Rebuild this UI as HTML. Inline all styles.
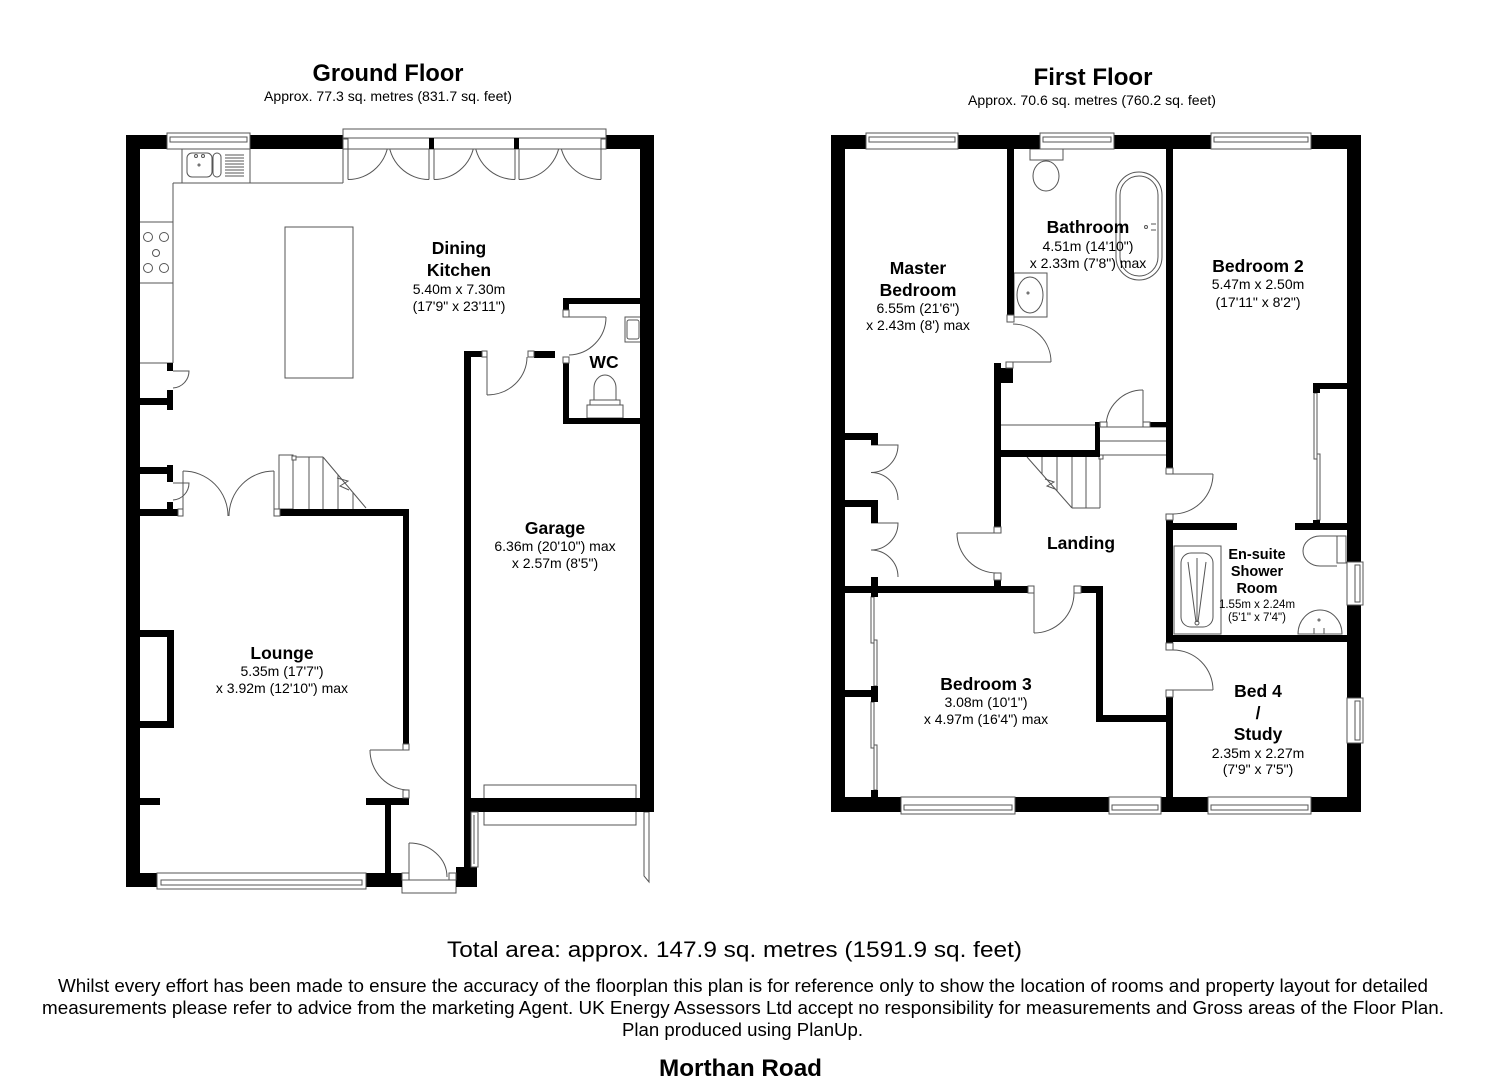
<!DOCTYPE html>
<html><head><meta charset="utf-8">
<style>
html,body{margin:0;padding:0;background:#fff;}
svg{display:block;}
text{font-family:"Liberation Sans",Arial,sans-serif;fill:#000;}
.t{font-weight:bold;font-size:17.5px;text-anchor:middle;}
.d{font-size:14px;text-anchor:middle;}
.ts{font-weight:bold;font-size:14.5px;text-anchor:middle;}
.ds{font-size:11.5px;text-anchor:middle;}
</style></head><body>
<svg width="1485" height="1080" viewBox="0 0 1485 1080" xmlns="http://www.w3.org/2000/svg">

<!-- ========== TITLES ========== -->
<text x="388" y="81" font-size="24" font-weight="bold" text-anchor="middle" textLength="151" lengthAdjust="spacingAndGlyphs">Ground Floor</text>
<text x="388" y="101" font-size="14" text-anchor="middle" textLength="248" lengthAdjust="spacingAndGlyphs">Approx. 77.3 sq. metres (831.7 sq. feet)</text>
<text x="1093" y="85" font-size="24" font-weight="bold" text-anchor="middle" textLength="119" lengthAdjust="spacingAndGlyphs">First Floor</text>
<text x="1092" y="105" font-size="14" text-anchor="middle" textLength="248" lengthAdjust="spacingAndGlyphs">Approx. 70.6 sq. metres (760.2 sq. feet)</text>

<!-- ========== GROUND FLOOR thin lines ========== -->
<g fill="none" stroke="#555" stroke-width="1">
  <!-- worktops -->
  <line x1="173" y1="183" x2="343" y2="183"/>
  <line x1="343" y1="149" x2="343" y2="183"/>
  <line x1="173" y1="183" x2="173" y2="363"/>
  <line x1="140" y1="363" x2="173" y2="363"/>
  <rect x="182" y="149" width="68" height="34"/>
  <rect x="187" y="153" width="25" height="24" rx="5"/>
  <rect x="213" y="153" width="8" height="24" rx="4"/>
  <circle cx="196" cy="156" r="1.5"/><circle cx="203" cy="156" r="1.5"/>
  <circle cx="199" cy="165" r="1"/>
  <line x1="225" y1="155" x2="244" y2="155"/><line x1="225" y1="158" x2="244" y2="158"/>
  <line x1="225" y1="161" x2="244" y2="161"/><line x1="225" y1="164" x2="244" y2="164"/>
  <line x1="225" y1="167" x2="244" y2="167"/><line x1="225" y1="170" x2="244" y2="170"/>
  <line x1="225" y1="173" x2="244" y2="173"/><line x1="225" y1="176" x2="244" y2="176"/>
  <!-- hob -->
  <line x1="140" y1="222" x2="173" y2="222"/>
  <line x1="140" y1="283" x2="173" y2="283"/>
  <circle cx="148" cy="237" r="4.5"/><circle cx="164" cy="237" r="4.5"/>
  <circle cx="156" cy="253" r="3.5"/>
  <circle cx="148" cy="268" r="4.5"/><circle cx="164" cy="268" r="4.5"/>
  <!-- island -->
  <rect x="285" y="227" width="68" height="151"/>
  <!-- french doors -->
  <line x1="348" y1="139" x2="348" y2="179.5"/><path d="M348,179.5 A40.5,40.5 0 0 0 388.5,139"/>
  <line x1="429" y1="139" x2="429" y2="179.5"/><path d="M429,179.5 A40.5,40.5 0 0 1 388.5,139"/>
  <line x1="434" y1="139" x2="434" y2="179.5"/><path d="M434,179.5 A40.5,40.5 0 0 0 474.5,139"/>
  <line x1="515" y1="139" x2="515" y2="179.5"/><path d="M515,179.5 A40.5,40.5 0 0 1 474.5,139"/>
  <line x1="519" y1="139" x2="519" y2="179.5"/><path d="M519,179.5 A41,41 0 0 0 560,139"/>
  <line x1="601" y1="139" x2="601" y2="179.5"/><path d="M601,179.5 A41,41 0 0 1 560,139"/>
  <!-- cupboard doors -->
  <path d="M173,371 L189,371 A17,17 0 0 1 173,388"/>
  <path d="M173,483 L189,483 A17,17 0 0 1 173,500"/>
  <!-- double doors lounge -->
  <line x1="183" y1="516" x2="183" y2="471"/><path d="M183,471 A45,45 0 0 1 228,516"/>
  <line x1="274" y1="516" x2="274" y2="471"/><path d="M274,471 A45,45 0 0 0 229,516"/>
  <!-- stairs -->
  <rect x="279" y="455" width="14" height="54"/>
  <line x1="293" y1="457" x2="323" y2="457"/>
  <line x1="309" y1="457" x2="309" y2="509"/>
  <line x1="323" y1="457" x2="323" y2="509"/>
  <line x1="323" y1="457" x2="366" y2="508"/>
  <line x1="338" y1="475" x2="338" y2="509"/>
  <line x1="353" y1="493" x2="353" y2="509"/>
  <path d="M337,478 L348,481 L340,486 L349,490"/>
  <rect x="292" y="456" width="4" height="4" fill="#fff"/>
  <!-- WC door -->
  <line x1="569" y1="317" x2="606" y2="317"/><path d="M606,317 A38,38 0 0 1 569,355"/>
  <!-- WC fittings -->
  <rect x="625" y="317" width="16" height="25"/>
  <rect x="627" y="320" width="12" height="19" rx="2"/>
  <path d="M594,400 L594,388 A11,13 0 0 1 616,388 L616,400"/>
  <rect x="590" y="400" width="30" height="5"/>
  <rect x="587" y="405" width="36" height="13"/>
  <!-- garage inner door -->
  <line x1="487" y1="357" x2="487" y2="395"/><path d="M487,395 A40,38 0 0 0 527,357"/>
  <!-- lounge door -->
  <line x1="409" y1="750" x2="370" y2="750"/><path d="M370,750 A39,40 0 0 0 409,790"/>
  <!-- front door -->
  <line x1="409" y1="877" x2="409" y2="843"/><path d="M409,843 A38,34 0 0 1 447,877"/>
  <rect x="402" y="880" width="54" height="13" fill="#fff"/>
  <!-- garage door -->
  <rect x="484" y="785" width="152" height="40"/>
  <!-- gate -->
  <path d="M644,812 L649,812 L649,882 L644,876 Z"/>
</g>

<!-- ========== GROUND FLOOR WALLS ========== -->
<g fill="#000">
  <rect x="126" y="135" width="14" height="752"/>
  <rect x="126" y="135" width="217" height="14"/>
  <rect x="603" y="135" width="51" height="14"/>
  <rect x="640" y="135" width="14" height="677"/>
  <rect x="464" y="798" width="190" height="14"/>
  <rect x="464" y="351" width="7" height="536"/>
  <rect x="456" y="867" width="21" height="20"/>
  <rect x="126" y="873" width="31" height="14"/>
  <rect x="366" y="873" width="36" height="14"/>
  <rect x="464" y="351" width="18" height="6"/>
  <rect x="534" y="351" width="21" height="7"/>
  <rect x="563" y="298" width="80" height="6"/>
  <rect x="563" y="298" width="6" height="12"/>
  <rect x="563" y="363" width="6" height="61"/>
  <rect x="563" y="418" width="80" height="6"/>
  <rect x="140" y="509" width="38" height="7"/>
  <rect x="280" y="509" width="129" height="7"/>
  <rect x="403" y="509" width="6" height="235"/>
  <rect x="366" y="798" width="43" height="7"/>
  <rect x="385" y="805" width="6" height="68"/>
  <rect x="140" y="798" width="20" height="7"/>
  <rect x="140" y="630" width="34" height="7"/>
  <rect x="167" y="630" width="7" height="98"/>
  <rect x="140" y="721" width="34" height="7"/>
  <rect x="167" y="363" width="6" height="8"/>
  <rect x="167" y="390" width="6" height="20"/>
  <rect x="140" y="398" width="33" height="7"/>
  <rect x="140" y="467" width="33" height="7"/>
  <rect x="167" y="465" width="6" height="17"/>
  <rect x="167" y="502" width="6" height="8"/>
</g>

<!-- GF windows / stubs -->
<g fill="#fff" stroke="#555" stroke-width="1">
  <rect x="167" y="133" width="83" height="16"/>
  <rect x="170" y="137" width="77" height="5"/>
  <rect x="343" y="129" width="263" height="20"/>
  <line x1="343" y1="138" x2="606" y2="138"/>
  <rect x="157" y="873" width="209" height="16"/>
  <rect x="161" y="880" width="201" height="5"/>
  <rect x="471" y="812" width="7" height="55"/>
  <line x1="474" y1="815" x2="474" y2="864"/>
  <!-- stubs -->
  <rect x="178" y="509" width="5" height="7"/>
  <rect x="274" y="509" width="6" height="7"/>
  <rect x="403" y="744" width="6" height="6"/>
  <rect x="403" y="790" width="6" height="8"/>
  <rect x="402" y="873" width="7" height="7"/>
  <rect x="449" y="873" width="7" height="7"/>
  <rect x="482" y="351" width="5" height="6"/>
  <rect x="528" y="351" width="6" height="6"/>
  <rect x="563" y="310" width="6" height="7"/>
  <rect x="563" y="357" width="6" height="6"/>
  <rect x="343" y="139" width="5" height="10"/>
  <rect x="601" y="139" width="5" height="10"/>
</g>
<g fill="#000">
  <rect x="429" y="138" width="5" height="11"/>
  <rect x="514" y="138" width="5" height="11"/>
</g>

<!-- GF labels -->
<text class="t" x="459" y="254">Dining</text>
<text class="t" x="459" y="276">Kitchen</text>
<text class="d" x="459" y="294">5.40m x 7.30m</text>
<text class="d" x="459" y="311">(17'9" x 23'11")</text>
<text class="t" x="604" y="368">WC</text>
<text class="t" x="555" y="534">Garage</text>
<text class="d" x="555" y="551">6.36m (20'10") max</text>
<text class="d" x="555" y="568">x 2.57m (8'5")</text>
<text class="t" x="282" y="659">Lounge</text>
<text class="d" x="282" y="676">5.35m (17'7")</text>
<text class="d" x="282" y="693">x 3.92m (12'10") max</text>

<!-- ========== FIRST FLOOR thin lines ========== -->
<g fill="none" stroke="#555" stroke-width="1">
  <!-- bathroom fittings -->
  <rect x="1030" y="149" width="33" height="11"/>
  <ellipse cx="1046" cy="176" rx="13" ry="15"/>
  <rect x="1116" y="172" width="46" height="108" rx="23"/>
  <rect x="1120" y="176" width="38" height="100" rx="19"/>
  <circle cx="1146" cy="227" r="1.5"/>
  <path d="M1151,224 h5 M1151,230 h5"/>
  <rect x="1014" y="273" width="33" height="44"/>
  <ellipse cx="1030" cy="295" rx="13" ry="18"/>
  <circle cx="1028" cy="293" r="1"/>
  <!-- doors -->
  <line x1="1013" y1="362" x2="1051" y2="362"/><path d="M1013,324 A38,38 0 0 1 1051,362"/>
  <line x1="997" y1="533" x2="957" y2="533"/><path d="M957,533 A40,40 0 0 0 997,573"/>
  <line x1="1034" y1="593" x2="1034" y2="633"/><path d="M1034,633 A40,40 0 0 0 1074,593"/>
  <line x1="1143" y1="427" x2="1143" y2="390"/><path d="M1143,390 A37,37 0 0 0 1106,427"/>
  <line x1="1173" y1="474" x2="1213" y2="474"/><path d="M1213,474 A40,40 0 0 1 1173,514"/>
  <line x1="1173" y1="690" x2="1213" y2="690"/><path d="M1173,650 A40,40 0 0 1 1213,690"/>
  <!-- banister / landing -->
  <line x1="1001" y1="425" x2="1095" y2="425"/>
  <line x1="1100" y1="427" x2="1166" y2="427"/>
  <line x1="1100" y1="441" x2="1166" y2="441"/>
  <line x1="1100" y1="455" x2="1166" y2="455"/>
  <!-- stairs -->
  <line x1="1027" y1="457" x2="1072" y2="508"/>
  <line x1="1042" y1="457" x2="1042" y2="474"/>
  <line x1="1057" y1="457" x2="1057" y2="491"/>
  <line x1="1072" y1="457" x2="1072" y2="508"/>
  <line x1="1086" y1="457" x2="1086" y2="508"/>
  <line x1="1100" y1="457" x2="1100" y2="508"/>
  <line x1="1072" y1="508" x2="1100" y2="508"/>
  <path d="M1045,479 L1054,482 L1047,486 L1055,489"/>
  <rect x="1099" y="455" width="4" height="4" fill="#fff"/>
  <!-- master wardrobe bifolds -->
  <path d="M871,445 L898,445 A27,27.5 0 0 1 871,472.5 A27,27.5 0 0 1 898,500"/>
  <path d="M871,523 L898,523 A27,27 0 0 1 871,550 A27,27 0 0 1 898,577"/>
  <!-- bed3 sliding -->
  <rect x="871" y="597" width="3" height="46"/>
  <rect x="874" y="640" width="3" height="46"/>
  <rect x="871" y="702" width="3" height="46"/>
  <rect x="874" y="745" width="3" height="45"/>
  <!-- bed2 sliding -->
  <rect x="1314" y="393" width="3" height="66"/>
  <rect x="1317" y="454" width="3" height="66"/>
  <!-- ensuite fittings -->
  <rect x="1174" y="546" width="47" height="88"/>
  <rect x="1181" y="553" width="32" height="74" rx="10"/>
  <path d="M1188,562 L1196,622 M1197,558 L1197,622 M1206,562 L1198,622"/>
  <circle cx="1197" cy="623" r="2"/>
  <path d="M1337,536 L1320,536 A17,15 0 0 0 1320,566 L1337,566"/>
  <rect x="1337" y="536" width="9" height="27"/>
  <path d="M1298,634 A22,24 0 0 1 1342,634 Z"/>
  <circle cx="1319" cy="620" r="1"/>
  <path d="M1314,628 v6 M1324,628 v6"/>
</g>

<!-- ========== FIRST FLOOR WALLS ========== -->
<g fill="#000">
  <rect x="831" y="135" width="14" height="677"/>
  <rect x="831" y="135" width="530" height="14"/>
  <rect x="1347" y="135" width="14" height="677"/>
  <rect x="831" y="797" width="530" height="15"/>
  <rect x="1007" y="149" width="7" height="166"/>
  <rect x="994" y="363" width="7" height="164"/>
  <rect x="994" y="368" width="19" height="15"/>
  <rect x="994" y="580" width="7" height="6"/>
  <rect x="1166" y="149" width="7" height="319"/>
  <rect x="1166" y="520" width="7" height="123"/>
  <rect x="1166" y="697" width="7" height="100"/>
  <rect x="1166" y="523" width="71" height="7"/>
  <rect x="1295" y="523" width="52" height="7"/>
  <rect x="1313" y="383" width="34" height="6"/>
  <rect x="1313" y="383" width="7" height="10"/>
  <rect x="1313" y="520" width="7" height="10"/>
  <rect x="1166" y="635" width="181" height="7"/>
  <rect x="1096" y="586" width="7" height="136"/>
  <rect x="1096" y="715" width="77" height="7"/>
  <rect x="844" y="586" width="184" height="7"/>
  <rect x="1081" y="586" width="22" height="7"/>
  <rect x="1001" y="450" width="99" height="7"/>
  <rect x="1095" y="422" width="5" height="35"/>
  <rect x="1150" y="422" width="16" height="5"/>
  <rect x="844" y="433" width="34" height="7"/>
  <rect x="871" y="433" width="7" height="12"/>
  <rect x="844" y="500" width="34" height="7"/>
  <rect x="871" y="500" width="7" height="23"/>
  <rect x="871" y="577" width="7" height="20"/>
  <rect x="844" y="690" width="34" height="7"/>
  <rect x="871" y="686" width="7" height="16"/>
  <rect x="871" y="790" width="7" height="7"/>
</g>

<!-- FF windows / stubs -->
<g fill="#fff" stroke="#555" stroke-width="1">
  <rect x="866" y="133" width="92" height="16"/><rect x="869" y="137" width="86" height="5"/>
  <rect x="1040" y="133" width="74" height="16"/><rect x="1043" y="137" width="68" height="5"/>
  <rect x="1211" y="133" width="100" height="16"/><rect x="1214" y="137" width="94" height="5"/>
  <rect x="901" y="797" width="114" height="17"/><rect x="904" y="805" width="108" height="5"/>
  <rect x="1109" y="797" width="52" height="17"/><rect x="1112" y="805" width="46" height="5"/>
  <rect x="1208" y="797" width="103" height="17"/><rect x="1211" y="805" width="97" height="5"/>
  <rect x="1347" y="562" width="16" height="43"/><rect x="1355" y="565" width="5" height="37"/>
  <rect x="1347" y="698" width="16" height="45"/><rect x="1355" y="701" width="5" height="39"/>
  <!-- stubs -->
  <rect x="1007" y="315" width="7" height="7"/>
  <rect x="1006" y="362" width="7" height="6"/>
  <rect x="994" y="527" width="7" height="6"/>
  <rect x="994" y="573" width="7" height="7"/>
  <rect x="1028" y="586" width="6" height="7"/>
  <rect x="1074" y="586" width="7" height="7"/>
  <rect x="1166" y="468" width="7" height="6"/>
  <rect x="1166" y="514" width="7" height="6"/>
  <rect x="1166" y="643" width="7" height="7"/>
  <rect x="1166" y="690" width="7" height="7"/>
  <rect x="1100" y="422" width="7" height="5"/>
  <rect x="1143" y="422" width="7" height="5"/>
</g>

<!-- FF labels -->
<text class="t" x="918" y="274">Master</text>
<text class="t" x="918" y="296">Bedroom</text>
<text class="d" x="918" y="313">6.55m (21'6")</text>
<text class="d" x="918" y="330">x 2.43m (8') max</text>
<text class="t" x="1088" y="233">Bathroom</text>
<text class="d" x="1088" y="251">4.51m (14'10")</text>
<text class="d" x="1088" y="268">x 2.33m (7'8") max</text>
<text class="t" x="1258" y="272">Bedroom 2</text>
<text class="d" x="1258" y="289">5.47m x 2.50m</text>
<text class="d" x="1258" y="307">(17'11" x 8'2")</text>
<text class="t" x="1081" y="549">Landing</text>
<text class="ts" x="1257" y="559">En-suite</text>
<text class="ts" x="1257" y="576">Shower</text>
<text class="ts" x="1257" y="593">Room</text>
<text class="ds" x="1257" y="608">1.55m x 2.24m</text>
<text class="ds" x="1257" y="621">(5'1" x 7'4")</text>
<text class="t" x="986" y="690">Bedroom 3</text>
<text class="d" x="986" y="707">3.08m (10'1")</text>
<text class="d" x="986" y="724">x 4.97m (16'4") max</text>
<text class="t" x="1258" y="697">Bed 4</text>
<text class="t" x="1258" y="719">/</text>
<text class="t" x="1258" y="740">Study</text>
<text class="d" x="1258" y="758">2.35m x 2.27m</text>
<text class="d" x="1258" y="774">(7'9" x 7'5")</text>

<!-- ========== FOOTER ========== -->
<text x="734.5" y="957" font-size="22" text-anchor="middle" textLength="575" lengthAdjust="spacingAndGlyphs">Total area: approx. 147.9 sq. metres (1591.9 sq. feet)</text>
<text x="743" y="992" font-size="18" text-anchor="middle" textLength="1370" lengthAdjust="spacingAndGlyphs">Whilst every effort has been made to ensure the accuracy of the floorplan this plan is for reference only to show the location of rooms and property layout for detailed</text>
<text x="743" y="1014" font-size="18" text-anchor="middle" textLength="1402" lengthAdjust="spacingAndGlyphs">measurements please refer to advice from the marketing Agent. UK Energy Assessors Ltd accept no responsibility for measurements and Gross areas of the Floor Plan.</text>
<text x="742.5" y="1036" font-size="18" text-anchor="middle" textLength="241" lengthAdjust="spacingAndGlyphs">Plan produced using PlanUp.</text>
<text x="740.5" y="1076" font-size="24" font-weight="bold" text-anchor="middle" textLength="163" lengthAdjust="spacingAndGlyphs">Morthan Road</text>

</svg>
</body></html>
